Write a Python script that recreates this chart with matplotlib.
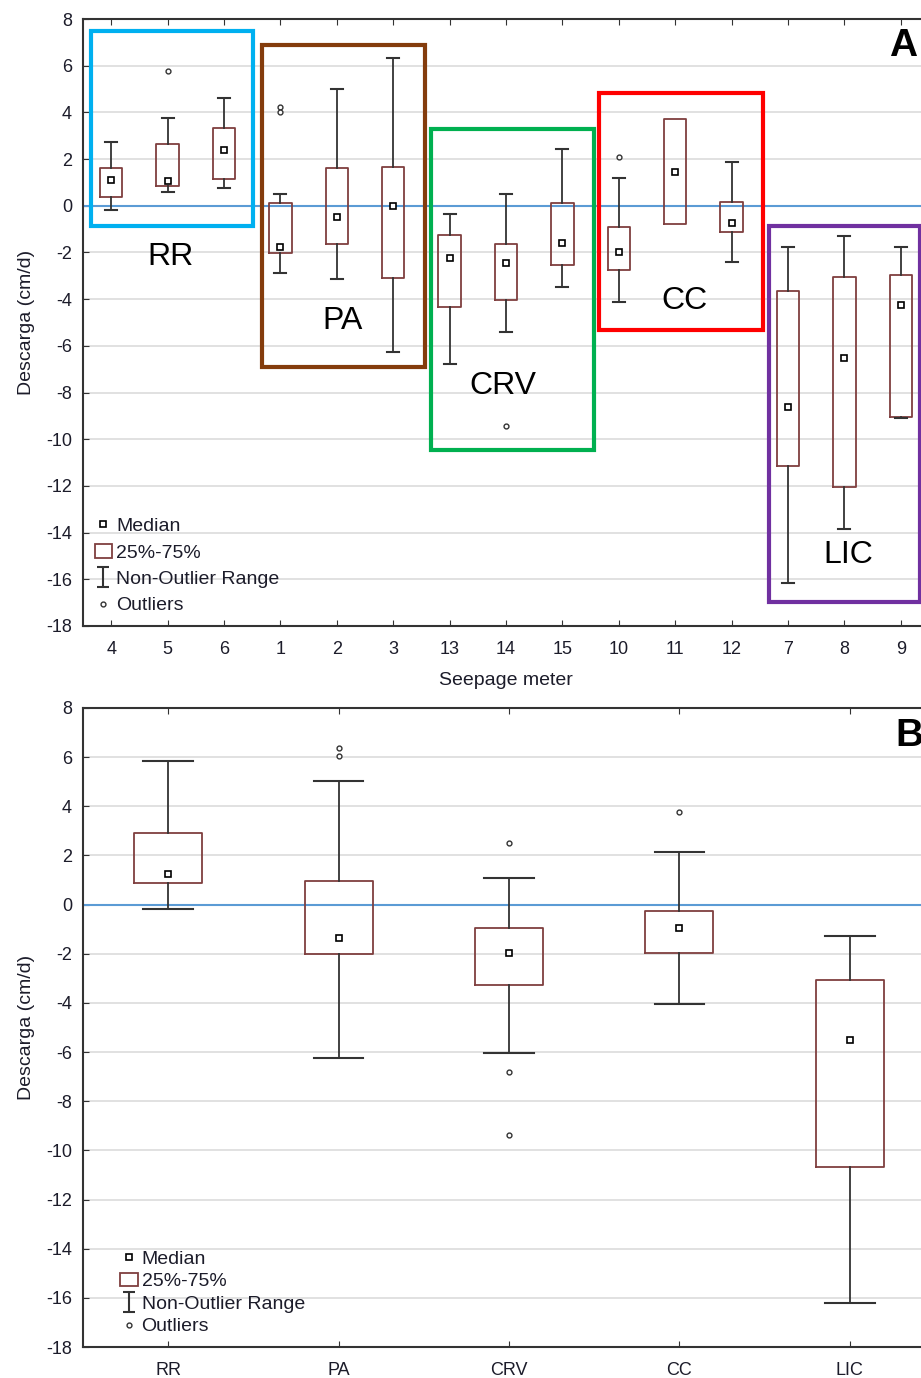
"""
Seepage discharge box plots: (A) per seepage meter, grouped by site,
(B) pooled per site.
"""
import matplotlib

matplotlib.use("Agg")
import matplotlib.pyplot as plt
from matplotlib.lines import Line2D
from matplotlib.patches import Rectangle
from matplotlib.path import Path

plt.rcParams["font.family"] = ["Liberation Sans", "DejaVu Sans"]
plt.rcParams["axes.unicode_minus"] = False

# ---- panel A: one box per seepage meter ----
meters_a = ["4", "5", "6", "1", "2", "3", "13", "14", "15", "10", "11", "12", "7", "8", "9"]
med_a = [1.11, 1.06, 2.40, -1.78, -0.48, 0.01, -2.24, -2.43, -1.60, -1.98, 1.44, -0.74, -8.64, -6.50, -4.24]
q1_a = [0.37, 0.83, 1.16, -2.03, -1.63, -3.08, -4.35, -4.03, -2.53, -2.74, -0.78, -1.13, -11.16, -12.06, -9.05]
q3_a = [1.61, 2.63, 3.34, 0.12, 1.60, 1.67, -1.24, -1.63, 0.10, -0.91, 3.73, 0.18, -3.63, -3.05, -2.98]
lo_a = [-0.20, 0.57, 0.77, -2.90, -3.13, -6.25, -6.77, -5.40, -3.50, -4.14, -0.78, -2.41, -16.16, -13.86, -9.07]
hi_a = [2.75, 3.74, 4.63, 0.50, 5.01, 6.31, -0.34, 0.50, 2.43, 1.20, 3.73, 1.86, -1.76, -1.30, -1.77]
out_a = [[], [5.77], [], [4.25, 4.0], [], [], [], [-9.42], [], [2.07], [], [], [], [], []]

# site frames in panel A
sites_a = ["RR", "PA", "CRV", "CC", "LIC"]
site_cols = ["#00B0F0", "#843C0C", "#00B050", "#FF0000", "#7030A0"]

# ---- panel B: pooled per site ----
sites_b = ["RR", "PA", "CRV", "CC", "LIC"]
med_b = [1.26, -1.36, -1.98, -0.94, -5.52]
q1_b = [0.87, -1.99, -3.28, -1.95, -10.68]
q3_b = [2.93, 0.96, -0.97, -0.25, -3.08]
lo_b = [-0.19, -6.25, -6.05, -4.06, -16.22]
hi_b = [5.83, 5.03, 1.10, 2.14, -1.28]
out_b = [[], [6.03, 6.37], [2.50, -6.82, -9.38], [3.75], []]

BOX_C = "#7f3f3f"
WHIS_C = "#333333"
TXT_C = "#1c1c2a"
ZERO_C = "#5B9BD5"

ibeam = Path([(0, -1), (0, 1), (-0.6, 1), (0.6, 1), (-0.6, -1), (0.6, -1)],
             [Path.MOVETO, Path.LINETO, Path.MOVETO, Path.LINETO, Path.MOVETO, Path.LINETO])


def draw_boxes(ax, med, q1, q3, lo, hi, out, width, capw):
    stats = []
    for i in range(len(med)):
        stats.append(dict(med=med[i], q1=q1[i], q3=q3[i], whislo=lo[i],
                          whishi=hi[i], fliers=out[i]))
    caps = [0 if (lo[i] == q1[i] and hi[i] == q3[i]) else capw for i in range(len(med))]
    ax.bxp(stats, positions=range(len(med)), widths=width, capwidths=caps,
           showfliers=True, manage_ticks=False,
           boxprops=dict(color=BOX_C, linewidth=1.3),
           whiskerprops=dict(color=WHIS_C, linewidth=1.3),
           capprops=dict(color=WHIS_C, linewidth=1.5),
           medianprops=dict(visible=False),
           flierprops=dict(marker="o", markersize=3.5, markerfacecolor="white",
                           markeredgecolor=WHIS_C, markeredgewidth=1.0))
    ax.plot(range(len(med)), med, "s", ms=4, mfc="white", mec="black", mew=1.2,
            zorder=5, linestyle="none")


def style_axes(ax, labels, leg_spacing, leg_x):
    ax.set_ylim(-18, 8)
    ax.set_yticks(range(-18, 9, 2))
    ax.set_xticks(range(len(labels)))
    ax.set_xticklabels(labels)
    ax.set_xlim(-0.5, len(labels) - 0.5)
    ax.grid(axis="y", color="#dcdcdc", linewidth=1.2)
    ax.set_axisbelow(True)
    ax.axhline(0, color=ZERO_C, linewidth=1.5, zorder=1.5)
    ax.tick_params(direction="in", length=4, top=True, right=True,
                   labelsize=13, colors="#333333", labelcolor=TXT_C)
    ax.tick_params(axis="x", pad=11)
    ax.tick_params(axis="y", pad=8)
    for s in ax.spines.values():
        s.set_color("#333333")
        s.set_linewidth(1.5)
    ax.set_ylabel("Descarga (cm/d)", fontsize=14, color=TXT_C, labelpad=8)
    handles = [
        Line2D([], [], marker="s", ms=4, mfc="white", mec="black", mew=1.2, ls="none"),
        Rectangle((0, 0), 1, 1, facecolor="white", edgecolor=BOX_C, linewidth=1.3),
        Line2D([], [], marker=ibeam, ms=14, mfc="none", mec=WHIS_C, mew=1.5, ls="none"),
        Line2D([], [], marker="o", ms=3.5, mfc="white", mec=WHIS_C, mew=1.0, ls="none"),
    ]
    leg = ax.legend(handles, ["Median", "25%-75%", "Non-Outlier Range", "Outliers"],
                    loc="lower left", frameon=False, fontsize=14, handlelength=0.9,
                    handletextpad=0.2, labelspacing=leg_spacing, borderaxespad=0.2,
                    bbox_to_anchor=(leg_x, 0.0))
    for t in leg.get_texts():
        t.set_color(TXT_C)


fig = plt.figure(figsize=(9.21, 13.78), dpi=100)
ax_a = fig.add_axes([83 / 921, 1 - 626 / 1378, (929 - 83) / 921, (626 - 19) / 1378])
ax_b = fig.add_axes([83 / 921, 1 - 1347 / 1378, (935 - 83) / 921, (1347 - 708) / 1378])

# panel A
style_axes(ax_a, meters_a, 0.45, 0.0)
draw_boxes(ax_a, med_a, q1_a, q3_a, lo_a, hi_a, out_a, 0.4, 0.21)
ax_a.set_xlabel("Seepage meter", fontsize=14, color=TXT_C, labelpad=10)

frames = [(-0.35, 2.52, 7.49, -0.86), (2.68, 5.57, 6.90, -6.90),
          (5.67, 8.56, 3.30, -10.45), (8.65, 11.56, 4.84, -5.31),
          (11.67, 14.34, -0.86, -16.96)]
label_xy = [(1.06, -2.18), (4.11, -4.93), (6.95, -7.70), (10.16, -4.07), (13.07, -14.95)]
for name, col, (x0, x1, y0, y1), (tx, ty) in zip(sites_a, site_cols, frames, label_xy):
    ax_a.add_patch(Rectangle((x0, y1), x1 - x0, y0 - y1, fill=False, edgecolor=col,
                             linewidth=3, zorder=6))
    ax_a.text(tx, ty, name, fontsize=23, ha="center", va="center", color="black")
ax_a.text(13.8, 6.85, "A", fontsize=28, fontweight="bold", ha="left", va="center",
          clip_on=False)

# panel B
style_axes(ax_b, sites_b, 0.25, 0.03)
draw_boxes(ax_b, med_b, q1_b, q3_b, lo_b, hi_b, out_b, 0.4, 0.29)
ax_b.text(4.27, 6.85, "B", fontsize=28, fontweight="bold", ha="left", va="center",
          clip_on=False)

fig.savefig("out.png", dpi=100)
